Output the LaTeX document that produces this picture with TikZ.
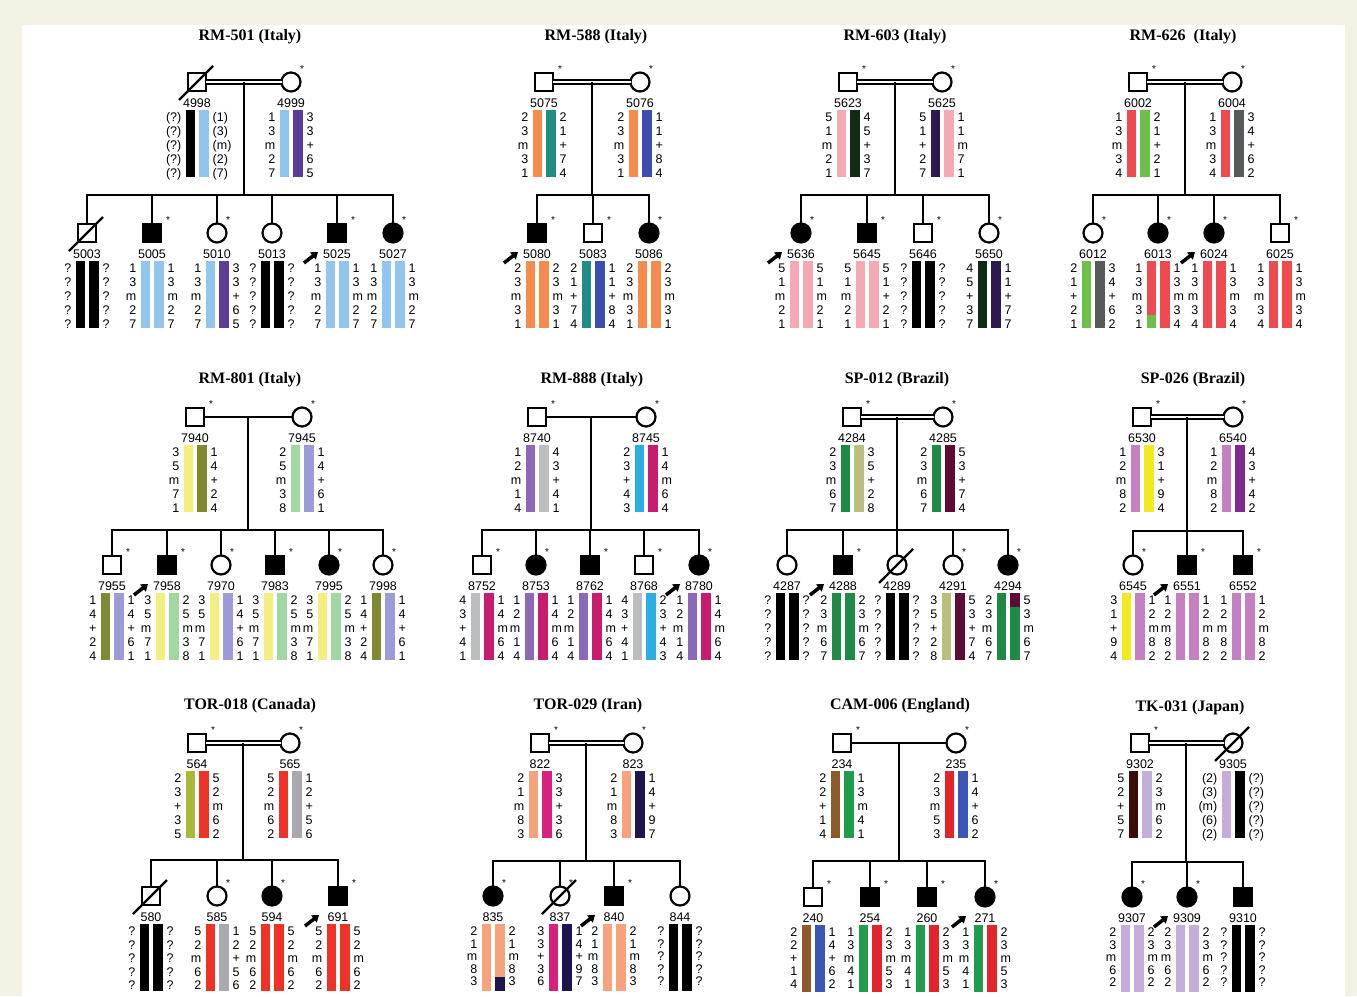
\documentclass[tikz,border=0pt]{standalone}
\usepackage{fontspec}
\setmainfont{Liberation Sans}
\newfontfamily\ttlfont{Liberation Serif}
\usetikzlibrary{arrows.meta,calc}

\definecolor{cream}{HTML}{F3F1E4}
\definecolor{lblue}{HTML}{92C5EB}
\definecolor{vio}{HTML}{5B3C9B}
\definecolor{orng}{HTML}{F68B4E}
\definecolor{teal2}{HTML}{1F8C86}
\definecolor{blu}{HTML}{3B4DB0}
\definecolor{pnk}{HTML}{F5A9B2}
\definecolor{dgrn}{HTML}{102B13}
\definecolor{dpur}{HTML}{2B1A4F}
\definecolor{rd}{HTML}{EE4A50}
\definecolor{grn}{HTML}{6CC04A}
\definecolor{dgry}{HTML}{58595B}
\definecolor{ylw}{HTML}{F3EE7E}
\definecolor{olv}{HTML}{7F8A30}
\definecolor{lgrn}{HTML}{A0D7A2}
\definecolor{lav}{HTML}{9C9BD7}
\definecolor{pur}{HTML}{8B69B8}
\definecolor{lgry}{HTML}{BCBDBF}
\definecolor{cyn}{HTML}{2BAEE4}
\definecolor{crm}{HTML}{C81C6F}
\definecolor{sgrn}{HTML}{1E8A46}
\definecolor{khk}{HTML}{BABE7E}
\definecolor{mrn}{HTML}{5E0C34}
\definecolor{orc}{HTML}{C580C2}
\definecolor{sylw}{HTML}{F0EA1E}
\definecolor{spur}{HTML}{7D2B8F}
\definecolor{ygrn}{HTML}{AAB938}
\definecolor{trd}{HTML}{EE3326}
\definecolor{tgry}{HTML}{A8AAAD}
\definecolor{pch}{HTML}{F6A37D}
\definecolor{mag}{HTML}{D8207D}
\definecolor{nvy}{HTML}{1D1450}
\definecolor{brn}{HTML}{8E5A2B}
\definecolor{cgrn}{HTML}{1F9D4C}
\definecolor{crd}{HTML}{E3242B}
\definecolor{cblu}{HTML}{3C56B6}
\definecolor{dbrn}{HTML}{3E0B0B}
\definecolor{lil}{HTML}{C5ADD9}

\newcommand{\rowsp}{14}
\newcommand{\sqI}[4]{\node[msq,fill=#4] (n#1) at (#2,#3) {}; \node[idlab] (n#1-id) at (#2,{#3+21}) {#1};}
\newcommand{\ciI}[4]{\node[mci,fill=#4] (n#1) at (#2,#3) {}; \node[idlab] (n#1-id) at (#2,{#3+21}) {#1};}
\newcommand{\astS}[1]{\node[astk] (n#1-st) at ([shift={(16,-13)}]n#1.center) {*};}
\newcommand{\astC}[1]{\node[astk] (n#1-st) at ([shift={(11,-13)}]n#1.center) {*};}
\newcommand{\dead}[1]{\draw[line width=2.2pt] ([shift={(-18,18)}]n#1.center) -- ([shift={(16,-16)}]n#1.center);}
\newcommand{\prb}[1]{\draw[line width=3.5pt,-{Triangle[length=6.5pt,width=9pt]}] ([shift={(-33,30)}]n#1.center) -- ([shift={(-19,19)}]n#1.center);}
\newcommand{\hap}[5]{%
  \fill[#2] ([shift={(-11.5,28)}]n#1.center) rectangle ([shift={(-2,95)}]n#1.center);
  \fill[#3] ([shift={(2,28)}]n#1.center) rectangle ([shift={(11.5,95)}]n#1.center);
  \foreach \t [count=\i] in {#4} {\node[lab,anchor=east] (n#1-l\i) at ([shift={(-15.5,{35+(\i-1)*\rowsp})}]n#1.center) {\t};}
  \foreach \t [count=\i] in {#5} {\node[lab,anchor=west] (n#1-r\i) at ([shift={(15.5,{35+(\i-1)*\rowsp})}]n#1.center) {\t};}
}
\newcommand{\segL}[4]{\fill[#2] ([shift={(-11.5,#3)}]n#1.center) rectangle ([shift={(-2,#4)}]n#1.center);}
\newcommand{\segR}[4]{\fill[#2] ([shift={(2,#3)}]n#1.center) rectangle ([shift={(11.5,#4)}]n#1.center);}
\newcommand{\pedfam}[7]{%
  \draw[#3] (n#1.east) -- (n#2.west);
  \coordinate (c#1m) at ($(n#1.east)!0.5!(n#2.west)$);
  \coordinate (c#1s) at (c#1m |- 0,#4);
  \draw[con] (c#1m) -- (c#1s);
  \draw[con] (n#5.north) |- (c#1s) -| (n#6.north);
  \foreach \c in {#7} {\draw[con] (n\c.north) -- (n\c.north |- c#1s);}
}

\begin{document}
\begin{tikzpicture}[x=1pt,y=-1pt,
  sym/.style={draw=black, line width=2.2pt, inner sep=0pt, outer sep=0pt},
  msq/.style={sym, rectangle, minimum size=18pt},
  mci/.style={sym, circle, minimum size=19pt},
  con/.style={line width=2pt, draw=black},
  dbl/.style={draw=black, double=white, double distance=2.4pt, line width=2.1pt},
  lab/.style={font=\fontsize{12.5}{12.5}\selectfont, inner sep=0pt, text height=9pt, text depth=0pt},
  idlab/.style={font=\fontsize{12.5}{12.5}\selectfont, inner sep=0pt},
  ttl/.style={font=\ttlfont\bfseries\fontsize{16}{16}\selectfont, inner sep=0pt},
  astk/.style={font=\fontsize{10}{10}\selectfont, inner sep=0pt}]
\useasboundingbox (0,0) rectangle (1357,996);
\fill[cream] (0,0) rectangle (1357,996);
\fill[white] (22,25) rectangle (1345,996);

% titles
\node[ttl] (t1) at (250,37) {RM-501 (Italy)};
\node[ttl] (t2) at (596,37) {RM-588 (Italy)};
\node[ttl] (t3) at (895,37) {RM-603 (Italy)};
\node[ttl] (t4) at (1183,37) {RM-626~ (Italy)};
\node[ttl] (t5) at (250,380) {RM-801 (Italy)};
\node[ttl] (t6) at (592,380) {RM-888 (Italy)};
\node[ttl] (t7) at (897,380) {SP-012 (Brazil)};
\node[ttl] (t8) at (1193,380) {SP-026 (Brazil)};
\node[ttl] (t9) at (250,706) {TOR-018 (Canada)};
\node[ttl] (t10) at (588,706) {TOR-029 (Iran)};
\node[ttl] (t11) at (900,706) {CAM-006 (England)};
\node[ttl] (t12) at (1190,708) {TK-031 (Japan)};

% ---------- RM-501
\sqI{4998}{197}{82}{white}\dead{4998}
\ciI{4999}{291}{82}{white}\astC{4999}
\sqI{5003}{87}{233}{white}\dead{5003}
\sqI{5005}{152}{233}{black}\astS{5005}
\ciI{5010}{217}{233}{white}\astC{5010}
\ciI{5013}{272}{233}{white}
\sqI{5025}{337}{233}{black}\astS{5025}\prb{5025}
\ciI{5027}{393}{233}{black}\astC{5027}
\pedfam{4998}{4999}{dbl}{195}{5003}{5027}{5005,5010,5013,5025}
\hap{4998}{black}{lblue}{(?),(?),(?),(?),(?)}{(1),(3),(m),(2),(7)}
\hap{4999}{lblue}{vio}{1,3,m,2,7}{3,3,+,6,5}
\hap{5003}{black}{black}{?,?,?,?,?}{?,?,?,?,?}
\hap{5005}{lblue}{lblue}{1,3,m,2,7}{1,3,m,2,7}
\hap{5010}{lblue}{vio}{1,3,m,2,7}{3,3,+,6,5}
\hap{5013}{black}{black}{?,?,?,?,?}{?,?,?,?,?}
\hap{5025}{lblue}{lblue}{1,3,m,2,7}{1,3,m,2,7}
\hap{5027}{lblue}{lblue}{1,3,m,2,7}{1,3,m,2,7}

% ---------- RM-588
\sqI{5075}{544}{82}{white}\astS{5075}
\ciI{5076}{640}{82}{white}\astC{5076}
\sqI{5080}{537}{233}{black}\astS{5080}\prb{5080}
\sqI{5083}{593}{233}{white}\astS{5083}
\ciI{5086}{649}{233}{black}\astC{5086}
\pedfam{5075}{5076}{dbl}{195}{5080}{5086}{5083}
\hap{5075}{orng}{teal2}{2,3,m,3,1}{2,1,+,7,4}
\hap{5076}{orng}{blu}{2,3,m,3,1}{1,1,+,8,4}
\hap{5080}{orng}{orng}{2,3,m,3,1}{2,3,m,3,1}
\hap{5083}{teal2}{blu}{2,1,+,7,4}{1,1,+,8,4}
\hap{5086}{orng}{orng}{2,3,m,3,1}{2,3,m,3,1}

% ---------- RM-603
\sqI{5623}{848}{82}{white}\astS{5623}
\ciI{5625}{942}{82}{white}\astC{5625}
\ciI{5636}{801}{233}{black}\astC{5636}\prb{5636}
\sqI{5645}{867}{233}{black}\astS{5645}
\sqI{5646}{923}{233}{white}\astS{5646}
\ciI{5650}{989}{233}{white}\astC{5650}
\pedfam{5623}{5625}{dbl}{195}{5636}{5650}{5645,5646}
\hap{5623}{pnk}{dgrn}{5,1,m,2,1}{4,5,+,3,7}
\hap{5625}{dpur}{pnk}{5,1,+,2,7}{1,1,m,7,1}
\hap{5636}{pnk}{pnk}{5,1,m,2,1}{5,1,m,2,1}
\hap{5645}{pnk}{pnk}{5,1,m,2,1}{5,1,+,2,1}
\hap{5646}{black}{black}{?,?,?,?,?}{?,?,?,?,?}
\hap{5650}{dgrn}{dpur}{4,5,+,3,7}{1,1,+,7,7}

% ---------- RM-626
\sqI{6002}{1138}{82}{white}\astS{6002}
\ciI{6004}{1232}{82}{white}\astC{6004}
\ciI{6012}{1093}{233}{white}\astC{6012}
\ciI{6013}{1158}{233}{black}\astC{6013}
\ciI{6024}{1214}{233}{black}\astC{6024}\prb{6024}
\sqI{6025}{1280}{233}{white}\astS{6025}
\pedfam{6002}{6004}{dbl}{195}{6012}{6025}{6013,6024}
\hap{6002}{rd}{grn}{1,3,m,3,4}{2,1,+,2,1}
\hap{6004}{rd}{dgry}{1,3,m,3,4}{3,4,+,6,2}
\hap{6012}{grn}{dgry}{2,1,+,2,1}{3,4,+,6,2}
\hap{6013}{rd}{rd}{1,3,m,3,1}{1,3,m,3,4}
\segL{6013}{grn}{82}{95}
\hap{6024}{rd}{rd}{1,3,m,3,4}{1,3,m,3,4}
\hap{6025}{rd}{rd}{1,3,m,3,4}{1,3,m,3,4}

% ---------- RM-801
\sqI{7940}{195}{417}{white}\astS{7940}
\ciI{7945}{302}{417}{white}\astC{7945}
\sqI{7955}{112}{565}{white}\astS{7955}
\sqI{7958}{167}{565}{black}\astS{7958}\prb{7958}
\ciI{7970}{221}{565}{white}\astC{7970}
\sqI{7983}{275}{565}{black}\astS{7983}
\ciI{7995}{329}{565}{black}\astC{7995}
\ciI{7998}{383}{565}{white}\astC{7998}
\pedfam{7940}{7945}{con}{530}{7955}{7998}{7958,7970,7983,7995}
\hap{7940}{ylw}{olv}{3,5,m,7,1}{1,4,+,2,4}
\hap{7945}{lgrn}{lav}{2,5,m,3,8}{1,4,+,6,1}
\hap{7955}{olv}{lav}{1,4,+,2,4}{1,4,+,6,1}
\hap{7958}{ylw}{lgrn}{3,5,m,7,1}{2,5,m,3,8}
\hap{7970}{ylw}{lav}{3,5,m,7,1}{1,4,+,6,1}
\hap{7983}{ylw}{lgrn}{3,5,m,7,1}{2,5,m,3,8}
\hap{7995}{ylw}{lgrn}{3,5,m,7,1}{2,5,m,3,8}
\hap{7998}{olv}{lav}{1,4,+,2,4}{1,4,+,6,1}

% ---------- RM-888
\sqI{8740}{537}{417}{white}\astS{8740}
\ciI{8745}{646}{417}{white}\astC{8745}
\sqI{8752}{482}{565}{white}\astS{8752}
\ciI{8753}{536}{565}{black}\astC{8753}
\sqI{8762}{590}{565}{black}\astS{8762}
\sqI{8768}{644}{565}{white}\astS{8768}
\ciI{8780}{699}{565}{black}\astC{8780}\prb{8780}
\pedfam{8740}{8745}{con}{530}{8752}{8780}{8753,8762,8768}
\hap{8740}{pur}{lgry}{1,2,m,1,4}{4,3,+,4,1}
\hap{8745}{cyn}{crm}{2,3,+,4,3}{1,4,m,6,4}
\hap{8752}{lgry}{crm}{4,3,+,4,1}{1,4,m,6,4}
\hap{8753}{pur}{crm}{1,2,m,1,4}{1,4,m,6,4}
\hap{8762}{pur}{crm}{1,2,m,1,4}{1,4,m,6,4}
\hap{8768}{lgry}{cyn}{4,3,+,4,1}{2,3,+,4,3}
\hap{8780}{pur}{crm}{1,2,m,1,4}{1,4,m,6,4}

% ---------- SP-012
\sqI{4284}{852}{417}{white}\astS{4284}
\ciI{4285}{943}{417}{white}\astC{4285}
\ciI{4287}{787}{565}{white}
\sqI{4288}{843}{565}{black}\astS{4288}\prb{4288}
\ciI{4289}{897}{565}{white}\dead{4289}
\ciI{4291}{953}{565}{white}\astC{4291}
\ciI{4294}{1008}{565}{black}\astC{4294}
\pedfam{4284}{4285}{dbl}{530}{4287}{4294}{4288,4289,4291}
\hap{4284}{sgrn}{khk}{2,3,m,6,7}{3,5,+,2,8}
\hap{4285}{sgrn}{mrn}{2,3,m,6,7}{5,3,+,7,4}
\hap{4287}{black}{black}{?,?,?,?,?}{?,?,?,?,?}
\hap{4288}{sgrn}{sgrn}{2,3,m,6,7}{2,3,m,6,7}
\hap{4289}{black}{black}{?,?,?,?,?}{?,?,?,?,?}
\hap{4291}{khk}{mrn}{3,5,+,2,8}{5,3,+,7,4}
\hap{4294}{sgrn}{sgrn}{2,3,m,6,7}{5,3,m,6,7}
\segR{4294}{mrn}{28}{42}

% ---------- SP-026
\sqI{6530}{1142}{417}{white}\astS{6530}
\ciI{6540}{1233}{417}{white}\astC{6540}
\ciI{6545}{1133}{565}{white}\astC{6545}
\sqI{6551}{1187}{565}{black}\astS{6551}\prb{6551}
\sqI{6552}{1243}{565}{black}\astS{6552}
\pedfam{6530}{6540}{dbl}{531}{6545}{6552}{6551}
\hap{6530}{orc}{sylw}{1,2,m,8,2}{3,1,+,9,4}
\hap{6540}{orc}{spur}{1,2,m,8,2}{4,3,+,4,2}
\hap{6545}{sylw}{orc}{3,1,+,9,4}{1,2,m,8,2}
\hap{6551}{orc}{orc}{1,2,m,8,2}{1,2,m,8,2}
\hap{6552}{orc}{orc}{1,2,m,8,2}{1,2,m,8,2}

% ---------- TOR-018
\sqI{564}{197}{743}{white}\astS{564}
\ciI{565}{290}{743}{white}\astC{565}
\sqI{580}{151}{896}{white}\dead{580}
\ciI{585}{217}{896}{white}\astC{585}
\ciI{594}{272}{896}{black}\astC{594}
\sqI{691}{338}{896}{black}\astS{691}\prb{691}
\pedfam{564}{565}{dbl}{860}{580}{691}{585,594}
\hap{564}{ygrn}{trd}{2,3,+,3,5}{5,2,m,6,2}
\hap{565}{trd}{tgry}{5,2,m,6,2}{1,2,+,5,6}
\renewcommand{\rowsp}{13.5}
\hap{580}{black}{black}{?,?,?,?,?}{?,?,?,?,?}
\hap{585}{trd}{tgry}{5,2,m,6,2}{1,2,+,5,6}
\hap{594}{trd}{trd}{5,2,m,6,2}{5,2,m,6,2}
\hap{691}{trd}{trd}{5,2,m,6,2}{5,2,m,6,2}
\renewcommand{\rowsp}{14}

% ---------- TOR-029
\sqI{822}{540}{743}{white}\astS{822}
\ciI{823}{633}{743}{white}\astC{823}
\ciI{835}{493}{896}{black}\astC{835}
\ciI{837}{560}{896}{white}\dead{837}\astC{837}
\sqI{840}{614}{896}{black}\astS{840}\prb{840}
\ciI{844}{680}{896}{white}
\pedfam{822}{823}{dbl}{861}{835}{844}{837,840}
\hap{822}{pch}{mag}{2,1,m,8,3}{3,3,+,3,6}
\hap{823}{pch}{nvy}{2,1,m,8,3}{1,4,+,9,7}
\renewcommand{\rowsp}{12.5}
\hap{835}{pch}{pch}{2,1,m,8,3}{2,1,m,8,3}
\segR{835}{nvy}{81}{95}
\hap{837}{mag}{nvy}{3,3,+,3,6}{1,4,+,9,7}
\hap{840}{pch}{pch}{2,1,m,8,3}{2,1,m,8,3}
\hap{844}{black}{black}{?,?,?,?,?}{?,?,?,?,?}
\renewcommand{\rowsp}{14}

% ---------- CAM-006
\sqI{234}{842}{743}{white}\astS{234}
\ciI{235}{956}{743}{white}\astC{235}
\sqI{240}{813}{897}{white}\astS{240}
\sqI{254}{870}{897}{black}\astS{254}
\sqI{260}{927}{897}{black}\astS{260}
\ciI{271}{985}{897}{black}\astC{271}\prb{271}
\pedfam{234}{235}{con}{861}{240}{271}{254,260}
\hap{234}{brn}{cgrn}{2,2,+,1,4}{1,3,m,4,1}
\hap{235}{crd}{cblu}{2,3,m,5,3}{1,4,+,6,2}
\renewcommand{\rowsp}{13}
\hap{240}{brn}{cblu}{2,2,+,1,4}{1,4,+,6,2}
\hap{254}{cgrn}{crd}{1,3,m,4,1}{2,3,m,5,3}
\hap{260}{cgrn}{crd}{1,3,m,4,1}{2,3,m,5,3}
\hap{271}{cgrn}{crd}{1,3,m,4,1}{2,3,m,5,3}
\renewcommand{\rowsp}{14}

% ---------- TK-031
\sqI{9302}{1140}{743}{white}\astS{9302}
\ciI{9305}{1233}{743}{white}\dead{9305}
\ciI{9307}{1132}{897}{black}\astC{9307}
\ciI{9309}{1187}{897}{black}\astC{9309}\prb{9309}
\sqI{9310}{1243}{897}{black}
\pedfam{9302}{9305}{dbl}{862}{9307}{9310}{9309}
\hap{9302}{dbrn}{lil}{5,2,+,5,7}{2,3,m,6,2}
\hap{9305}{lil}{black}{(2),(3),(m),(6),(2)}{(?),(?),(?),(?),(?)}
\renewcommand{\rowsp}{12.5}
\hap{9307}{lil}{lil}{2,3,m,6,2}{2,3,m,6,2}
\hap{9309}{lil}{lil}{2,3,m,6,2}{2,3,m,6,2}
\hap{9310}{black}{black}{?,?,?,?,?}{?,?,?,?,?}
\renewcommand{\rowsp}{14}
\end{tikzpicture}
\end{document}
